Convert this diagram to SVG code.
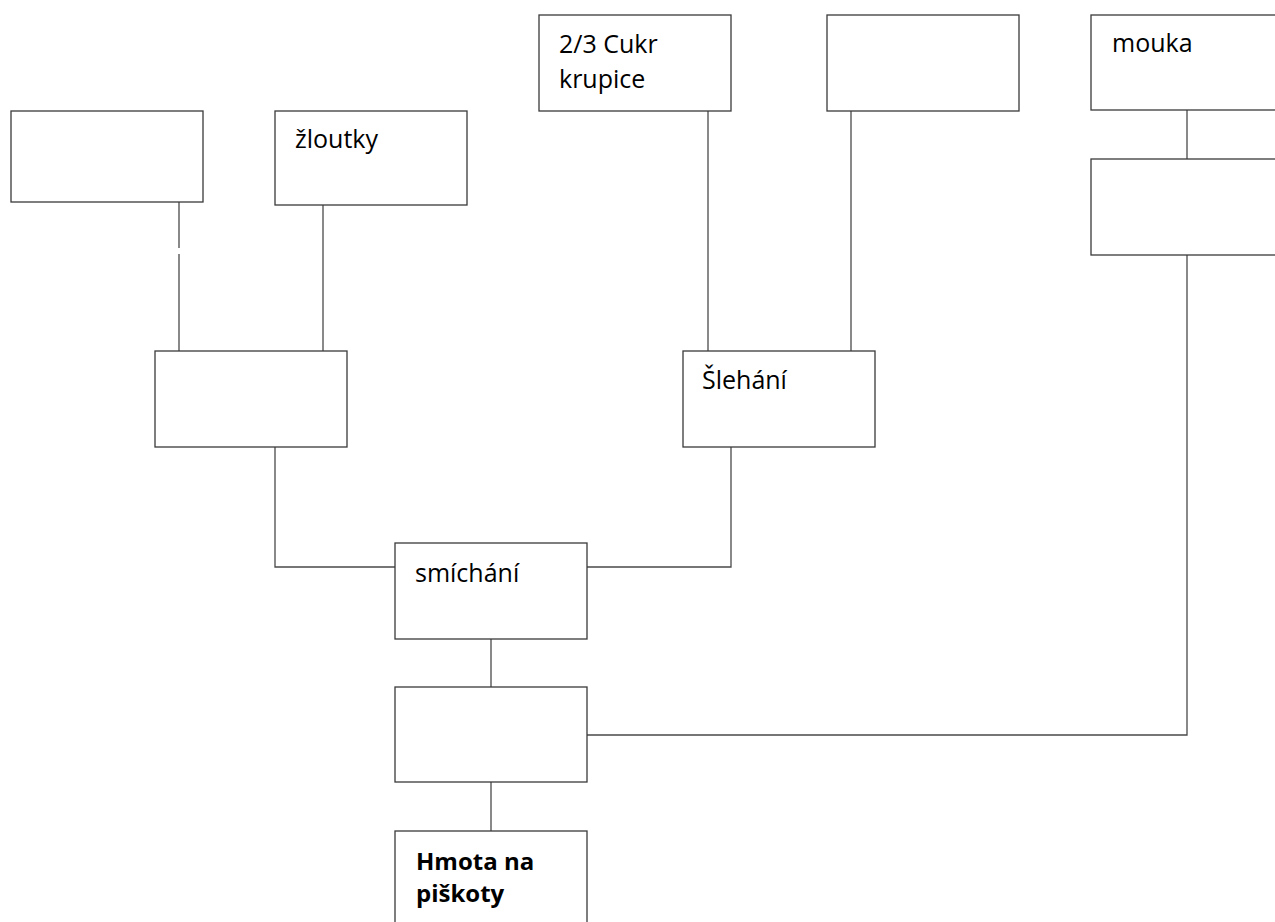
<svg xmlns="http://www.w3.org/2000/svg" width="1275" height="922" viewBox="0 0 1275 922">
<style>
.box{fill:#ffffff;stroke:#3a3a3a;stroke-width:1.3}
.con{fill:none;stroke:#4a4a4a;stroke-width:1.3}
.t{font-family:"Open Sans","Noto Sans",sans-serif;font-size:25px;fill:#000}
.b{font-weight:bold;font-size:24px}
</style>
<rect width="1275" height="922" fill="#ffffff"/>
<g id="connectors">
<path class="con" d="M179,202 V248 M179,254 V351"/>
<path class="con" d="M323,205 V351"/>
<path class="con" d="M708,111 V351"/>
<path class="con" d="M851,111 V351"/>
<path class="con" d="M1187,110 V159"/>
<path class="con" d="M275,447 V567 H395"/>
<path class="con" d="M731,447 V567 H587"/>
<path class="con" d="M491,639 V687"/>
<path class="con" d="M587,735 H1187 V255"/>
<path class="con" d="M491,782 V831"/>
</g>
<g id="n1"><rect class="box" x="11" y="111" width="192" height="91"/></g>
<g id="n2"><rect class="box" x="275" y="111" width="192" height="94"/><text class="t" x="295" y="148">žloutky</text></g>
<g id="n3"><rect class="box" x="539" y="15" width="192" height="96"/><text class="t" x="559" y="53">2/3 Cukr</text><text class="t" x="559" y="88">krupice</text></g>
<g id="n4"><rect class="box" x="827" y="15" width="192" height="96"/></g>
<g id="n5"><rect class="box" x="1091" y="15" width="192" height="95"/><text class="t" x="1112" y="52">mouka</text></g>
<g id="n6"><rect class="box" x="1091" y="159" width="192" height="96"/></g>
<g id="n7"><rect class="box" x="155" y="351" width="192" height="96"/></g>
<g id="n8"><rect class="box" x="683" y="351" width="192" height="96"/><text class="t" x="702" y="389">Šlehání</text></g>
<g id="n9"><rect class="box" x="395" y="543" width="192" height="96"/><text class="t" x="415" y="582">smíchání</text></g>
<g id="n10"><rect class="box" x="395" y="687" width="192" height="95"/></g>
<g id="n11"><rect class="box" x="395" y="831" width="192" height="100"/><text class="t b" x="416" y="870">Hmota na</text><text class="t b" x="416" y="902">piškoty</text></g>
</svg>
